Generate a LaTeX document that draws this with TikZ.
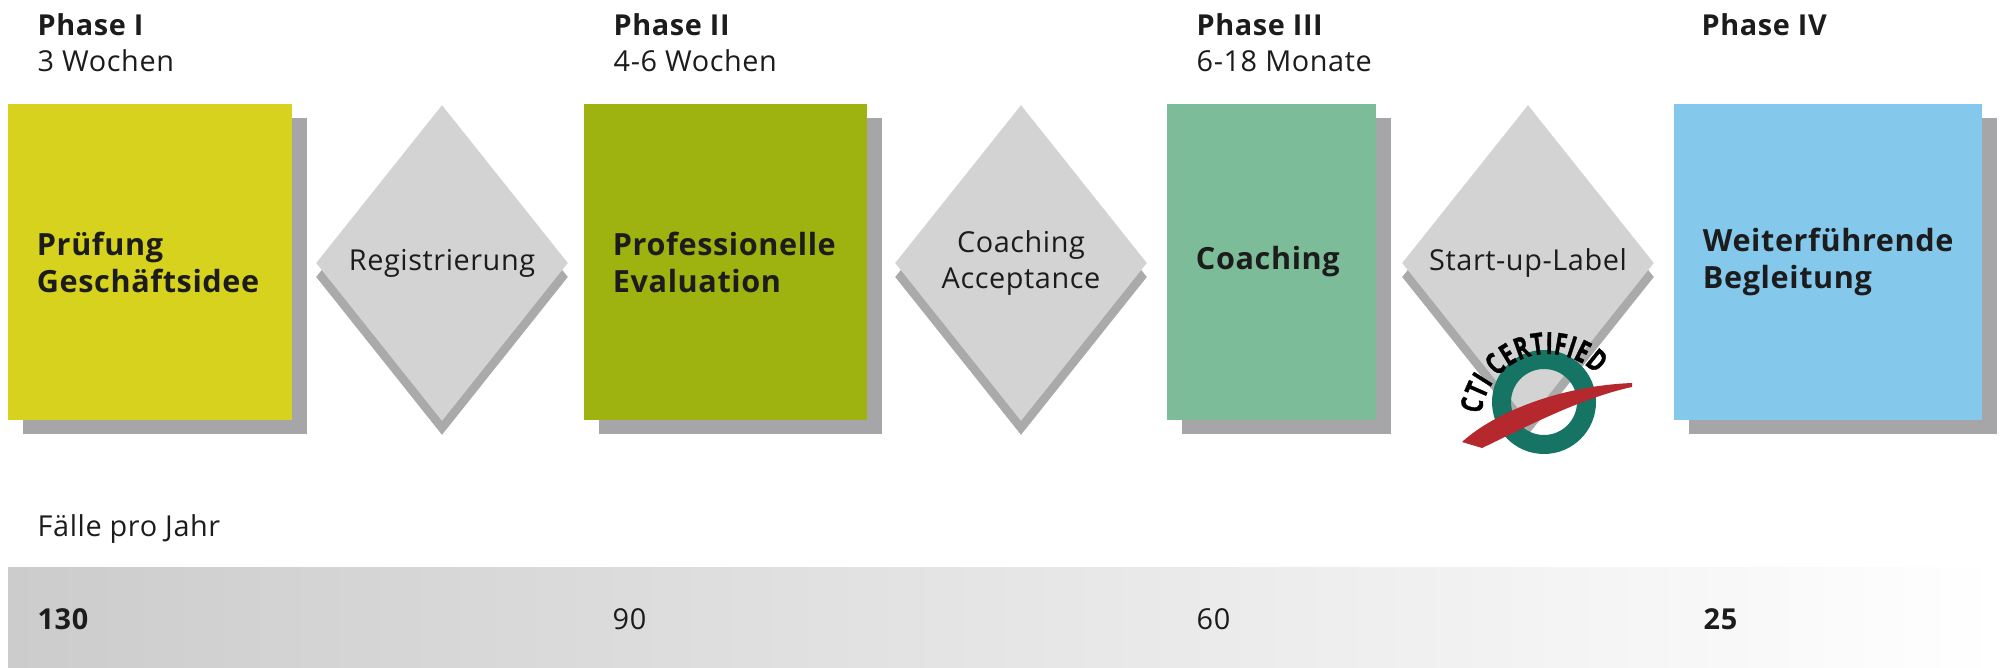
\documentclass[tikz,border=0pt]{standalone}
\usepackage{fontspec}
\setmainfont[LetterSpace=2]{Open Sans}
\newfontfamily\ctifont[FakeStretch=0.72, FakeBold=1.2]{Open Sans}
\usetikzlibrary{shapes.geometric, shadows, decorations.text}

\definecolor{phaseone}{RGB}{214,210,30}
\definecolor{phasetwo}{RGB}{158,178,16}
\definecolor{phasethree}{RGB}{124,188,152}
\definecolor{phasefour}{RGB}{132,200,236}
\definecolor{boxshadow}{RGB}{166,166,168}
\definecolor{gatefill}{RGB}{211,211,211}
\definecolor{gateshadow}{RGB}{170,170,170}
\definecolor{ink}{RGB}{28,28,28}
\definecolor{ctiteal}{RGB}{22,116,100}
\definecolor{ctired}{RGB}{180,40,46}

\tikzset{
  phasebox/.style={rectangle, fill=#1, minimum height=3.16cm, inner xsep=0.29cm, align=left, text=ink,
    font=\bfseries\fontsize{8.7}{10.5}\selectfont,
    drop shadow={shadow xshift=0.15cm, shadow yshift=-0.14cm, fill=boxshadow, opacity=1}},
  gate/.style={diamond, fill=gatefill, inner sep=0pt, minimum width=2.52cm, minimum height=3.16cm, align=center, text=ink,
    font=\fontsize{8.2}{10.5}\selectfont,
    drop shadow={shadow xshift=0cm, shadow yshift=-0.14cm, fill=gateshadow, opacity=1}},
  phasetitle/.style={anchor=base west, inner sep=0pt, text=ink, font=\bfseries\fontsize{8.2}{10}\selectfont},
  duration/.style={anchor=base west, inner sep=0pt, text=ink, font=\fontsize{8.2}{10}\selectfont},
}

\begin{document}
\begin{tikzpicture}[x=0.01cm, y=-0.01cm]
  \useasboundingbox (0,0) rectangle (2000,668);
  % Header
  \node (title1) [phasetitle] at (37,36) {Phase I};
  \node (time1) [duration] at (37,72) {3 Wochen};
  \node (title2) [phasetitle] at (613,36) {Phase II};
  \node (time2) [duration] at (613,72) {4-6 Wochen};
  \node (title3) [phasetitle] at (1196,36) {Phase III};
  \node (time3) [duration] at (1196,72) {6-18 Monate};
  \node (title4) [phasetitle] at (1701,36) {Phase IV};
  % Phases
  \node (pruefung) [phasebox=phaseone, text width=2.26cm] at (150,262) {Prüfung\\Geschäftsidee};
  \node (evaluation) [phasebox=phasetwo, text width=2.25cm] at (725.5,262) {Professionelle\\Evaluation};
  \node (coaching) [phasebox=phasethree, text width=1.51cm] at (1271.5,262) {Coaching};
  \node (begleitung) [phasebox=phasefour, text width=2.5cm] at (1828,262) {Weiterführende\\Begleitung};
  % Gates
  \node (registrierung) [gate] at (442,263) {Registrierung};
  \node (acceptance) [gate] at (1021,263) {Coaching\\Acceptance};
  \node (label) [gate] at (1528,263) {Start-up-Label};
  % CTI certified logo
  \fill[ctiteal, even odd rule] (1544,402) circle (52) (1544,402) circle (33);
  \fill[ctired] (1462,442) .. controls (1495,412) and (1560,386) .. (1632,383)
    -- (1632,387) .. controls (1580,398) and (1520,430) .. (1482,448) -- cycle;
  \path[decorate, decoration={text along path, text align={fit to path},
    text={|\ctifont\bfseries\fontsize{8.6}{9}\selectfont\color{black}|CTI CERTIFIED}}]
    (1548,421) ++(186:67) arc (186:316:67);
  % Cases per year
  \node (faelle) [duration] at (37,537) {Fälle pro Jahr};
  \shade[left color=black!20, right color=white] (8,568) rectangle (2000,668);
  \node (count1) [phasetitle] at (37,630) {130};
  \node (count2) [duration] at (612,630) {90};
  \node (count3) [duration] at (1196,630) {60};
  \node (count4) [phasetitle] at (1703,630) {25};
\end{tikzpicture}
\end{document}
